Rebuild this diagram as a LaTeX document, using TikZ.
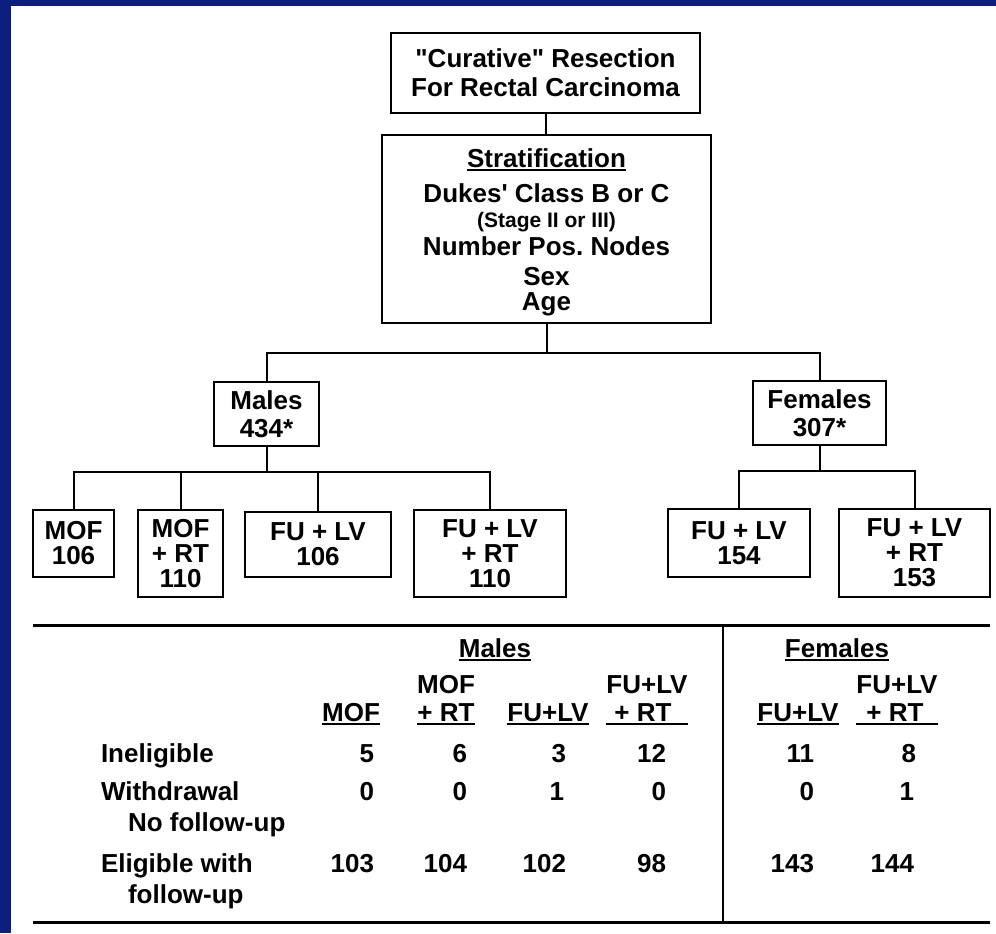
\documentclass[tikz,border=0pt]{standalone}
\usepackage{fontspec}
\setmainfont{Liberation Sans}
\definecolor{navy}{RGB}{12,30,128}
\newcommand{\undl}[1]{\setbox0=\hbox{#1}\rlap{\rule[-1.8pt]{\wd0}{1pt}}\box0}

\begin{document}
\begin{tikzpicture}[x=0.5pt,y=-0.5pt,line width=1pt,
   box/.style={draw,inner sep=0pt,align=center,font=\bfseries\fontsize{13}{14}\selectfont},
   leaf/.style={box,font=\bfseries\fontsize{13}{12.5}\selectfont},
   txt/.style={inner sep=0pt,font=\bfseries\fontsize{13}{14}\selectfont}]
   \useasboundingbox (0,0) rectangle (996,933);
   \fill[navy]  (0,0)  rectangle (996,933);
   \fill[white] (11,6) rectangle (996,933);

   % flow chart
   \node[box,minimum width=154.5pt,minimum height=40pt] (cur) at (545.5,73)
        {\textquotedbl Curative\textquotedbl\ Resection\\[0.5pt]For Rectal Carcinoma};
   \node[box,minimum width=164.5pt,minimum height=94pt] (strat) at (546.5,229)
        {\rule{0pt}{13pt}\undl{Stratification}\\[3.5pt]Dukes\textquotesingle\ Class B or C\\[-1.5pt]
         {\fontsize{10.5}{12}\selectfont (Stage II or III)}\hspace*{27pt}\\
         Number Pos.\ Nodes\\[1pt]Sex\\[-1.5pt]Age};
   \node[box,minimum width=52.5pt,minimum height=32pt] (males)   at (266.5,414) {Males\\434*};
   \node[box,minimum width=66.5pt,minimum height=32pt] (females) at (819.5,413) {Females\\307*};

   \node[leaf,minimum width=40.5pt,minimum height=33.5pt] (mof)     at (73.5,543.5)  {MOF\\106};
   \node[leaf,minimum width=42.5pt,minimum height=43.5pt] (mofrt)   at (180.5,553.5) {MOF\\+ RT\\110};
   \node[leaf,minimum width=73pt,minimum height=32.5pt]   (fulv)    at (318,544.5)   {FU + LV\\106};
   \node[leaf,minimum width=76pt,minimum height=43.5pt]   (fulvrt)  at (490,553.5)   {FU + LV\\+ RT\\110};
   \node[leaf,minimum width=71pt,minimum height=34pt]     (ffulv)   at (739,543)     {FU + LV\\154};
   \node[leaf,minimum width=75.5pt,minimum height=44pt]   (ffulvrt) at (914.5,553)   {FU + LV\\+ RT\\153};

   \draw (cur.south) -- (cur.south |- strat.north);
   \draw (strat.south) -- ++(0,29) coordinate (sj);
   \draw (males.north) |- (sj) -| (females.north);

   \draw (males.south) -- ++(0,25) coordinate (mj);
   \draw (mof.north) |- (mj) -| (fulvrt.north);
   \draw (mofrt.north) -- (mofrt.north |- mj);
   \draw (fulv.north) -- (fulv.north |- mj);

   \draw (females.south) -- ++(0,25) coordinate (fj);
   \draw (ffulv.north) |- (fj) -| (ffulvrt.north);

   % table
   \draw[line width=1.5pt] (33,625) -- (990,625);
   \draw[line width=1.5pt] (33,922) -- (990,922);
   \draw (723,625) -- (723,922);

   \node[txt,anchor=base] (hmales)   at (495,657) {\undl{Males}};
   \node[txt,anchor=base] (hfemales) at (837,657) {\undl{Females}};

   \node[txt,anchor=base] (h2a) at (446,693) {MOF};
   \node[txt,anchor=base] (h4a) at (647,693) {FU+LV};
   \node[txt,anchor=base] (h6a) at (897,693) {FU+LV};
   \node[txt,anchor=base] (h1)  at (351,721) {\undl{MOF}};
   \node[txt,anchor=base] (h2)  at (446,721) {\undl{+ RT}};
   \node[txt,anchor=base] (h3)  at (548,721) {\undl{FU+LV}};
   \node[txt,anchor=base] (h4)  at (647,721) {\undl{\rlap{\hspace{4pt}+ RT}\phantom{FU+LV}}};
   \node[txt,anchor=base] (h5)  at (798,721) {\undl{FU+LV}};
   \node[txt,anchor=base] (h6)  at (897,721) {\undl{\rlap{\hspace{5pt}+ RT}\phantom{FU+LV}}};

   \node[txt,anchor=base west] (inel)  at (100,762) {Ineligible};
   \node[txt,anchor=base west] (wdr)   at (100,800) {Withdrawal};
   \node[txt,anchor=base west] (wdr2)  at (127,831) {No follow-up};
   \node[txt,anchor=base west] (elig)  at (100,872) {Eligible with};
   \node[txt,anchor=base west] (elig2) at (127,903) {follow-up};

   \node[txt,anchor=base east] (r1c1) at (375,762) {5};
   \node[txt,anchor=base east] (r1c2) at (468,762) {6};
   \node[txt,anchor=base east] (r1c3) at (567,762) {3};
   \node[txt,anchor=base east] (r1c4) at (667,762) {12};
   \node[txt,anchor=base east] (r1c5) at (815,762) {11};
   \node[txt,anchor=base east] (r1c6) at (917,762) {8};

   \node[txt,anchor=base east] (r2c1) at (375,800) {0};
   \node[txt,anchor=base east] (r2c2) at (468,800) {0};
   \node[txt,anchor=base east] (r2c3) at (565,800) {1};
   \node[txt,anchor=base east] (r2c4) at (667,800) {0};
   \node[txt,anchor=base east] (r2c5) at (815,800) {0};
   \node[txt,anchor=base east] (r2c6) at (915,800) {1};

   \node[txt,anchor=base east] (r3c1) at (375,872) {103};
   \node[txt,anchor=base east] (r3c2) at (468,872) {104};
   \node[txt,anchor=base east] (r3c3) at (567,872) {102};
   \node[txt,anchor=base east] (r3c4) at (667,872) {98};
   \node[txt,anchor=base east] (r3c5) at (815,872) {143};
   \node[txt,anchor=base east] (r3c6) at (915,872) {144};
\end{tikzpicture}
\end{document}
